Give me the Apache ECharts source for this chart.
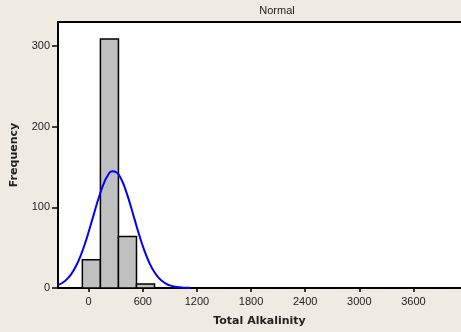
<!DOCTYPE html>
<html>
<head>
<meta charset="utf-8">
<script src="https://cdn.jsdelivr.net/npm/echarts@6/dist/echarts.min.js"></script>
<style>
html,body{margin:0;padding:0;background:#efebe2;}
#c{width:461px;height:332px;}
</style>
</head>
<body>
<div id="c"></div>
<script>
// Histogram bins (Total Alkalinity) and frequencies
const binStart = [-70, 130, 330, 530];
const binEnd = [130, 330, 530, 730];
const counts = [35, 309, 64, 5];
// Normal curve points
const curveX = [-340,-290,-240,-190,-140,-90,-40,10,60,110,160,210,260,310,360,410,460,510,560,610,660,710,760,810,860,910,960,1010,1060,1110,1130];
const curveY = [3.7,6.5,11.0,17.8,27.3,39.8,55.3,73.4,92.6,111.3,127.6,139.2,144.7,143.3,135.2,121.5,104.0,84.8,65.9,48.8,34.4,23.1,14.8,9.0,5.2,2.9,1.5,0.8,0.4,0.2,0.1];
// Tick labels
const xTicks = [0, 600, 1200, 1800, 2400, 3000, 3600];
const yTicks = [0, 100, 200, 300];

const barData = binStart.map((s, i) => [s, binEnd[i], counts[i]]);
const curveData = curveX.map((x, i) => [x, curveY[i]]);

const chart = echarts.init(document.getElementById('c'), null, {renderer: 'canvas'});
const labelFont = {fontFamily: 'Liberation Sans', fontSize: 11, color: '#222'};
const plain = function (v) { return String(v); };
chart.setOption({
  animation: false,
  backgroundColor: '#efebe2',
  title: {
    text: 'Normal', left: 272, top: 0, textAlign: 'center',
    textStyle: {fontFamily: 'Liberation Sans', fontSize: 11, fontWeight: 'normal', color: '#222'}
  },
  grid: {left: 58, top: 22, right: 0, bottom: 42, show: true, backgroundColor: '#ffffff', borderWidth: 0},
  xAxis: [{
    type: 'value', min: -340, max: 4127,
    name: 'Total Alkalinity', nameLocation: 'middle', nameGap: 28,
    nameTextStyle: {fontFamily: 'DejaVu Sans', fontSize: 11, fontWeight: 'bold', color: '#222'},
    axisLine: {show: true, onZero: false, lineStyle: {color: '#000', width: 2}},
    axisTick: {show: true, length: 4, lineStyle: {color: '#000', width: 1.5}, customValues: xTicks},
    axisLabel: Object.assign({margin: 8, customValues: xTicks, formatter: plain}, labelFont),
    splitLine: {show: false}
  }, {
    type: 'value', position: 'top', min: -340, max: 4127,
    axisLine: {show: true, onZero: false, lineStyle: {color: '#000', width: 2}},
    axisTick: {show: false}, axisLabel: {show: false}, splitLine: {show: false}
  }],
  yAxis: {
    type: 'value', min: 0, max: 330, interval: 100,
    name: 'Frequency', nameLocation: 'middle', nameGap: 38,
    nameTextStyle: {fontFamily: 'DejaVu Sans', fontSize: 11, fontWeight: 'bold', color: '#222'},
    axisLine: {show: true, onZero: false, lineStyle: {color: '#000', width: 2}},
    axisTick: {show: true, length: 6, lineStyle: {color: '#000', width: 1.5}, customValues: yTicks},
    axisLabel: Object.assign({margin: 8, customValues: yTicks, formatter: plain}, labelFont),
    splitLine: {show: false}
  },
  series: [{
    type: 'custom',
    data: barData,
    encode: {x: [0, 1], y: 2},
    renderItem: function (params, api) {
      const p0 = api.coord([api.value(0), api.value(2)]);
      const p1 = api.coord([api.value(1), 0]);
      return {
        type: 'rect',
        shape: {x: p0[0], y: p0[1], width: p1[0] - p0[0], height: p1[1] - p0[1]},
        style: {fill: '#c0c0c0', stroke: '#000', lineWidth: 1.5}
      };
    }
  }, {
    type: 'line',
    data: curveData,
    smooth: true,
    symbol: 'none',
    lineStyle: {color: '#0000ff', width: 2},
    z: 5
  }]
});
</script>
</body>
</html>
